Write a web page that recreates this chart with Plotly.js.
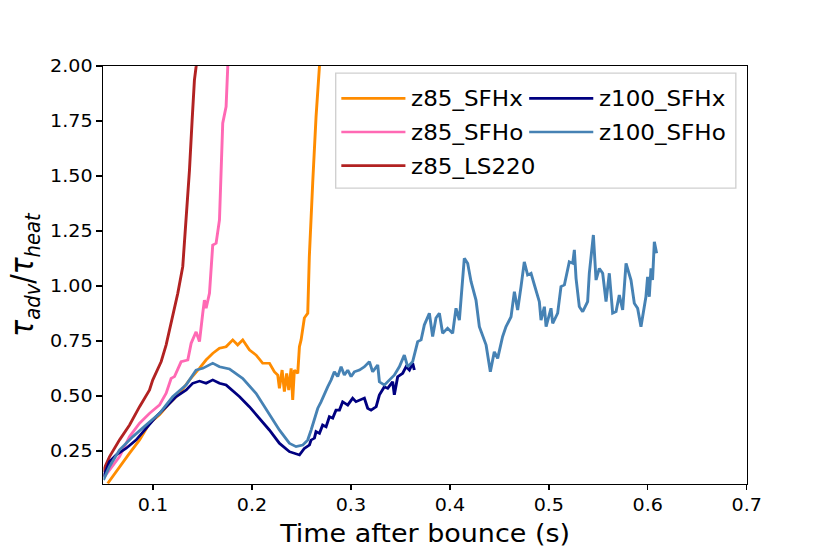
<!DOCTYPE html>
<html>
<head>
<meta charset="utf-8">
<script src="https://cdn.plot.ly/plotly-3.0.1.min.js"></script>
<style>
  html, body { margin: 0; padding: 0; background: #fff; overflow: hidden; }
  /* the reference figure is stretched sideways, so draw narrower and widen it */
  #chart { width: 738px; height: 554px; transform: scaleX(1.12466); transform-origin: 0 0; }
</style>
</head>
<body>
<div id="chart"></div>
<script>
// z85_SFHx
var tZ85SFHx = [0.0543, 0.0662, 0.0763, 0.0864, 0.0965, 0.1066, 0.1167, 0.1268, 0.1369, 0.1470,
	0.1537, 0.1604, 0.1672, 0.1739, 0.1806, 0.1856, 0.1907, 0.1975, 0.2042, 0.2109,
	0.2177, 0.2227, 0.2261, 0.2278, 0.2305, 0.2328, 0.2351, 0.2372, 0.2396, 0.2412,
	0.2429, 0.2463, 0.2480, 0.2497, 0.2513, 0.2530, 0.2564, 0.2580, 0.2614, 0.2648,
	0.2682, 0.2700];
var rZ85SFHx = [0.103, 0.179, 0.240, 0.300, 0.376, 0.414, 0.467, 0.512, 0.573, 0.626,
	0.664, 0.694, 0.717, 0.724, 0.755, 0.732, 0.755, 0.709, 0.686, 0.649,
	0.649, 0.610, 0.595, 0.535, 0.618, 0.520, 0.603, 0.527, 0.626, 0.482,
	0.618, 0.603, 0.724, 0.755, 0.800, 0.855, 0.876, 1.133, 1.467, 1.770,
	1.997, 2.150];

// z85_SFHo
var tZ85SFHo = [0.051, 0.0662, 0.0763, 0.0864, 0.0965, 0.1066, 0.1133, 0.1184, 0.1217, 0.1285,
	0.1352, 0.1386, 0.1436, 0.1470, 0.1503, 0.1520, 0.1537, 0.1571, 0.1604, 0.1638,
	0.1672, 0.1705, 0.1739, 0.1756, 0.1770];
var rZ85SFHo = [0.133, 0.224, 0.315, 0.376, 0.421, 0.459, 0.512, 0.580, 0.588, 0.656,
	0.664, 0.740, 0.792, 0.747, 0.876, 0.936, 0.899, 0.967, 1.186, 1.194,
	1.300, 1.740, 1.815, 1.982, 2.150];

// z85_LS220
var tZ85LS220 = [0.0493, 0.0561, 0.0662, 0.0763, 0.0864, 0.0965, 0.0998, 0.1083, 0.1133, 0.1190,
	0.1251, 0.1301, 0.1335, 0.1369, 0.1396, 0.1419, 0.1436, 0.1460];
var rZ85LS220 = [0.156, 0.224, 0.300, 0.368, 0.451, 0.527, 0.573, 0.656, 0.732, 0.840,
	0.967, 1.088, 1.300, 1.527, 1.755, 1.936, 1.997, 2.150];

// z100_SFHx
var tZ100SFHx = [0.0500, 0.0561, 0.0628, 0.0729, 0.0830, 0.0931, 0.1032, 0.1133, 0.1234, 0.1335,
	0.1402, 0.1470, 0.1537, 0.1604, 0.1672, 0.1739, 0.1806, 0.1874, 0.1975, 0.2076,
	0.2177, 0.2278, 0.2379, 0.2480, 0.2530, 0.2581, 0.2598, 0.2631, 0.2648, 0.2682,
	0.2715, 0.2749, 0.2783, 0.2816, 0.2850, 0.2884, 0.2917, 0.2968, 0.3018, 0.3052,
	0.3103, 0.3136, 0.3170, 0.3204, 0.3255, 0.3288, 0.3338, 0.3372, 0.3422, 0.3439,
	0.3473, 0.3523, 0.3557, 0.3591, 0.3624, 0.3641];
var rZ100SFHx = [0.133, 0.201, 0.232, 0.262, 0.300, 0.353, 0.406, 0.451, 0.497, 0.527,
	0.558, 0.568, 0.558, 0.573, 0.558, 0.550, 0.523, 0.497, 0.451, 0.399,
	0.345, 0.285, 0.247, 0.232, 0.262, 0.277, 0.300, 0.308, 0.338, 0.330,
	0.368, 0.360, 0.406, 0.399, 0.436, 0.436, 0.474, 0.459, 0.490, 0.474,
	0.482, 0.490, 0.444, 0.436, 0.451, 0.505, 0.542, 0.535, 0.565, 0.505,
	0.588, 0.603, 0.633, 0.618, 0.649, 0.618];

// z100_SFHo
var tZ100SFHo = [0.0500, 0.0561, 0.0662, 0.0796, 0.0931, 0.1066, 0.1200, 0.1335, 0.1436, 0.1503,
	0.1604, 0.1672, 0.1773, 0.1840, 0.1907, 0.2042, 0.2177, 0.2278, 0.2379, 0.2446,
	0.2513, 0.2564, 0.2598, 0.2631, 0.2665, 0.2699, 0.2732, 0.2766, 0.2800, 0.2833,
	0.2867, 0.2901, 0.2934, 0.2968, 0.3002, 0.3035, 0.3086, 0.3136, 0.3187, 0.3220,
	0.3271, 0.3288, 0.3338, 0.3389, 0.3439, 0.3490, 0.3540, 0.3574, 0.3624, 0.3675,
	0.3709, 0.3742, 0.3793, 0.3826, 0.3860, 0.3894, 0.3927, 0.3977, 0.4028, 0.4062,
	0.4096, 0.4146, 0.4180, 0.4214, 0.4264, 0.4298, 0.4366, 0.4409, 0.4449, 0.4483,
	0.4533, 0.4567, 0.4618, 0.4652, 0.4685, 0.4719, 0.4752, 0.4786, 0.4820, 0.4854,
	0.4904, 0.4921, 0.4955, 0.4972, 0.5022, 0.5039, 0.5089, 0.5123, 0.5157, 0.5207,
	0.5241, 0.5258, 0.5275, 0.5308, 0.5342, 0.5392, 0.5409, 0.5450, 0.5477, 0.5510,
	0.5544, 0.5578, 0.5611, 0.5645, 0.5679, 0.5712, 0.5746, 0.5780, 0.5830, 0.5864,
	0.5897, 0.5931, 0.5981, 0.5998, 0.6015, 0.6032, 0.6048, 0.6066, 0.6089];
var rZ100SFHo = [0.118, 0.179, 0.255, 0.315, 0.368, 0.421, 0.497, 0.550, 0.618, 0.626,
	0.649, 0.633, 0.623, 0.603, 0.580, 0.512, 0.414, 0.345, 0.285, 0.270,
	0.277, 0.300, 0.345, 0.391, 0.444, 0.474, 0.512, 0.542, 0.573, 0.610,
	0.588, 0.633, 0.595, 0.618, 0.588, 0.610, 0.618, 0.633, 0.656, 0.610,
	0.641, 0.565, 0.550, 0.573, 0.595, 0.633, 0.686, 0.633, 0.656, 0.747,
	0.755, 0.823, 0.876, 0.770, 0.855, 0.876, 0.785, 0.808, 0.785, 0.899,
	0.845, 1.126, 1.103, 1.020, 0.936, 0.815, 0.732, 0.610, 0.701, 0.671,
	0.770, 0.815, 0.860, 0.974, 0.891, 0.997, 1.110, 1.050, 1.058, 1.005,
	0.929, 0.845, 0.906, 0.815, 0.899, 0.830, 0.876, 0.997, 1.005, 1.110,
	1.103, 1.164, 1.035, 0.906, 0.883, 0.929, 1.058, 1.232, 1.027, 1.080,
	1.058, 0.929, 1.058, 0.876, 0.883, 0.959, 0.891, 1.103, 1.027, 0.921,
	0.899, 0.815, 0.951, 1.042, 0.951, 1.080, 1.027, 1.201, 1.149];

var lw = 2.6;

function line(x, y, name, color, leg) {
	return {
		x: x,
		y: y,
		type: 'scatter',
		mode: 'lines',
		name: name,
		legend: leg,
		legendgroup: name,
		line: {color: color, width: lw}
	};
}

var data = [
	line(tZ85SFHx, rZ85SFHx, 'z85_SFHx', '#ff8c00', 'legend'),
	line(tZ85SFHo, rZ85SFHo, 'z85_SFHo', '#ff69b4', 'legend'),
	line(tZ85LS220, rZ85LS220, 'z85_LS220', '#b22222', 'legend'),
	line(tZ100SFHx, rZ100SFHx, 'z100_SFHx', '#000080', 'legend2'),
	line(tZ100SFHo, rZ100SFHo, 'z100_SFHo', '#4682b4', 'legend2')
];

var axisFont = {family: 'DejaVu Sans', size: 17, color: '#000'};

// two legend columns sharing one frame (matplotlib ncol=2 look)
function legendCol(xpos) {
	return {
		x: xpos,
		y: 0.970,
		xanchor: 'left',
		yanchor: 'top',
		orientation: 'v',
		traceorder: 'grouped',
		tracegroupgap: 4,
		itemwidth: 57,
		bgcolor: 'rgba(0,0,0,0)',
		borderwidth: 0,
		font: {family: 'DejaVu Sans', size: 20.5, color: '#000'}
	};
}

var layout = {
	width: 738,
	height: 554,
	paper_bgcolor: '#fff',
	plot_bgcolor: '#fff',
	font: {family: 'DejaVu Sans', color: '#000'},
	margin: {l: 92, r: 74, t: 66, b: 70, autoexpand: false},
	showlegend: true,
	legend: legendCol(0.361),
	legend2: legendCol(0.653),
	shapes: [{
		type: 'rect',
		xref: 'paper', yref: 'paper',
		x0: 0.361, x1: 0.983, y0: 0.708, y1: 0.983,
		line: {color: '#d0d0d0', width: 1.2},
		fillcolor: 'rgba(255,255,255,0.8)',
		layer: 'above'
	}],
	xaxis: {
		range: [0.05, 0.7],
		tickvals: [0.1, 0.2, 0.3, 0.4, 0.5, 0.6, 0.7],
		ticktext: ['0.1', '0.2', '0.3', '0.4', '0.5', '0.6', '0.7'],
		ticks: 'outside',
		ticklen: 5,
		tickwidth: 1.2,
		tickcolor: '#000',
		tickfont: axisFont,
		showgrid: false,
		zeroline: false,
		showline: true,
		linecolor: '#000',
		linewidth: 1.3,
		mirror: true,
		title: {text: 'Time after bounce (s)', font: {family: 'DejaVu Sans', size: 24}, standoff: 11}
	},
	yaxis: {
		range: [0.1, 2.0],
		tickvals: [0.25, 0.5, 0.75, 1.0, 1.25, 1.5, 1.75, 2.0],
		ticktext: ['0.25', '0.50', '0.75', '1.00', '1.25', '1.50', '1.75', '2.00'],
		ticks: 'outside',
		ticklen: 5,
		tickwidth: 1.2,
		tickcolor: '#000',
		tickfont: axisFont,
		showgrid: false,
		zeroline: false,
		showline: true,
		linecolor: '#000',
		linewidth: 1.3,
		mirror: true,
		title: {
			text: '<i>τ<sub>adv</sub></i>/<i>τ<sub>heat</sub></i>',
			font: {family: 'DejaVu Sans', size: 28},
			standoff: 6
		}
	}
};

Plotly.newPlot('chart', data, layout, {displayModeBar: false, staticPlot: true});
</script>
</body>
</html>
